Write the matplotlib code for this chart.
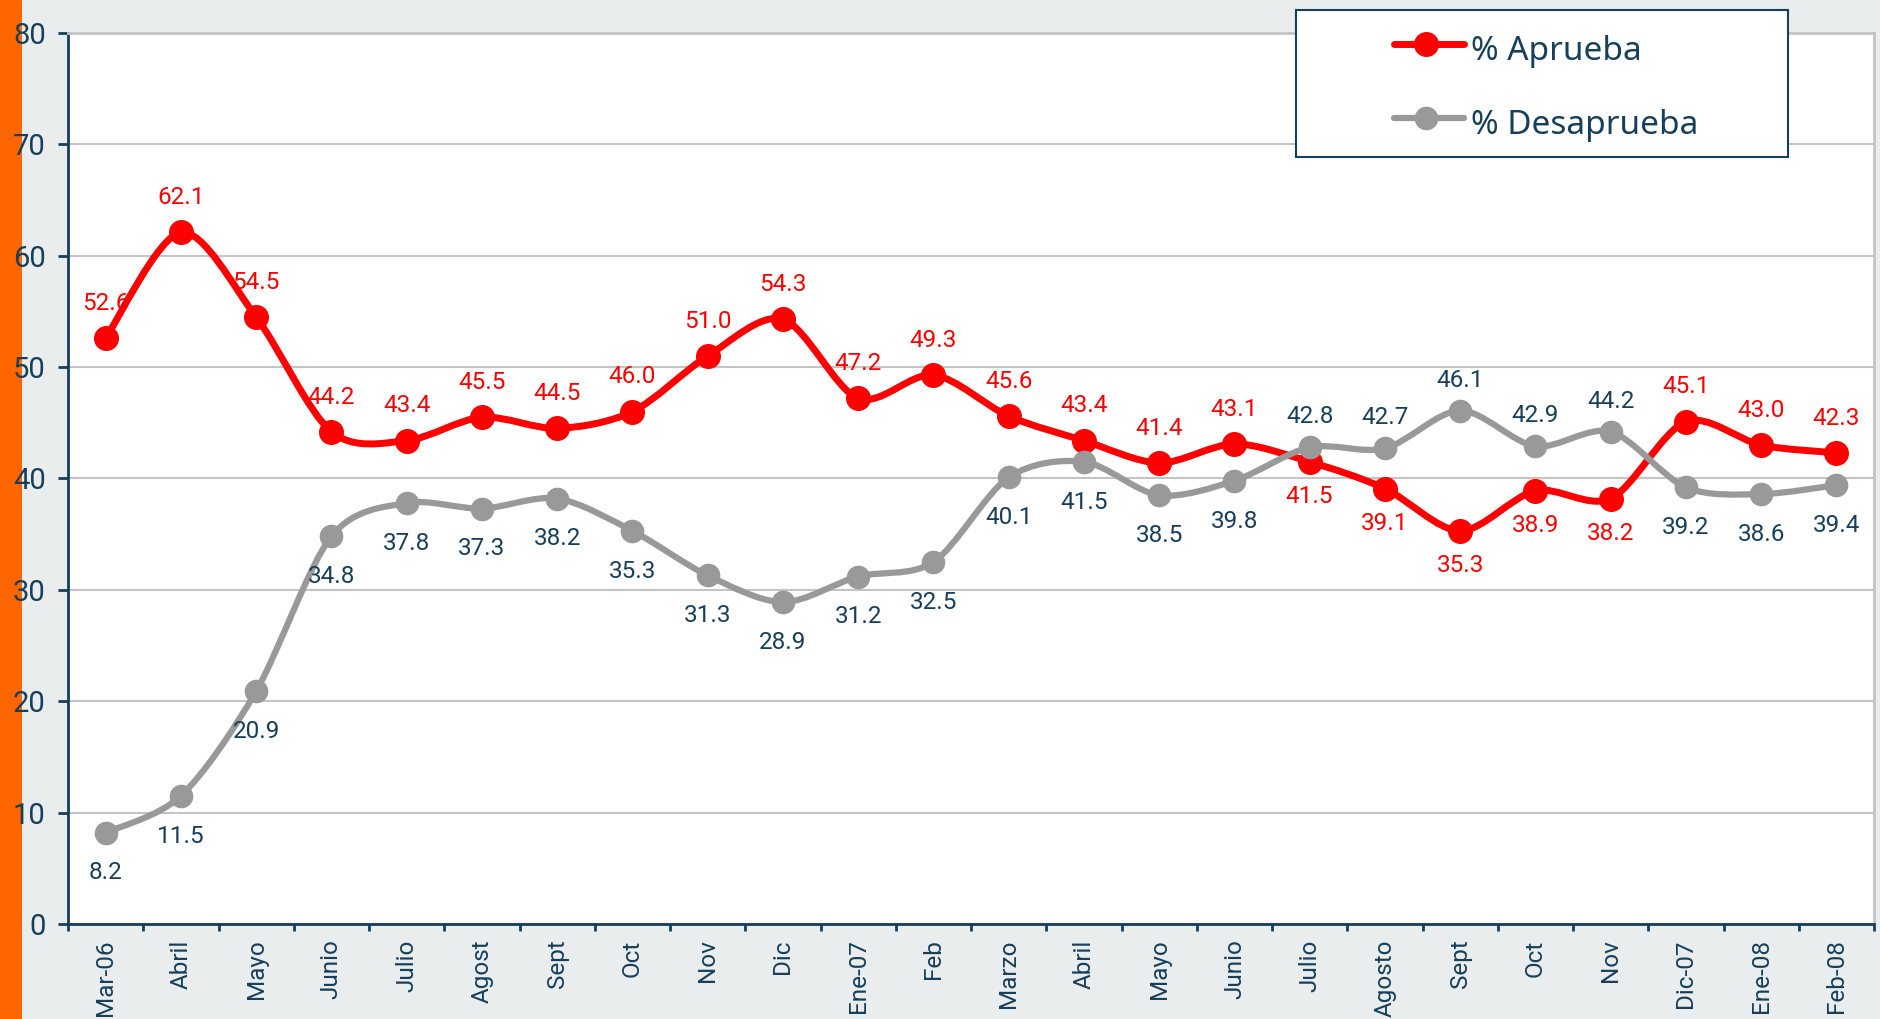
import numpy as np
import matplotlib.pyplot as plt
from matplotlib.path import Path
from matplotlib.patches import PathPatch, Rectangle
from matplotlib.lines import Line2D

meses = ["Mar-06", "Abril", "Mayo", "Junio", "Julio", "Agost", "Sept", "Oct",
         "Nov", "Dic", "Ene-07", "Feb", "Marzo", "Abril", "Mayo", "Junio",
         "Julio", "Agosto", "Sept", "Oct", "Nov", "Dic-07", "Ene-08", "Feb-08"]
aprueba = [52.6, 62.1, 54.5, 44.2, 43.4, 45.5, 44.5, 46.0, 51.0, 54.3, 47.2, 49.3,
           45.6, 43.4, 41.4, 43.1, 41.5, 39.1, 35.3, 38.9, 38.2, 45.1, 43.0, 42.3]
desaprueba = [8.2, 11.5, 20.9, 34.8, 37.8, 37.3, 38.2, 35.3, 31.3, 28.9, 31.2, 32.5,
              40.1, 41.5, 38.5, 39.8, 42.8, 42.7, 46.1, 42.9, 44.2, 39.2, 38.6, 39.4]

NAVY = "#173F5A"
RED = "#FF0000"
GRAY = "#999999"
BG = "#E9EDEE"
ORANGE = "#FF6600"
NUM_FONT = "Roboto"


def smooth_path(x, y, t=0.15):
    # curva tipo Excel "suavizada" (Catmull-Rom -> Bezier cubica)
    pts = np.column_stack([x, y]).astype(float)
    n = len(pts)
    verts = [pts[0]]
    codes = [Path.MOVETO]
    for i in range(n - 1):
        p0 = pts[max(i - 1, 0)]
        p1 = pts[i]
        p2 = pts[i + 1]
        p3 = pts[min(i + 2, n - 1)]
        c1 = p1 + (p2 - p0) * t
        c2 = p2 - (p3 - p1) * t
        verts += [c1, c2, p2]
        codes += [Path.CURVE4] * 3
    return Path(verts, codes)


fig = plt.figure(figsize=(18.8, 10.19), dpi=100, facecolor=BG)
fig.add_artist(Rectangle((0, 0), 22 / 1880, 1, transform=fig.transFigure,
                         facecolor=ORANGE, edgecolor="none", zorder=0))

ax = fig.add_axes([68 / 1880, 1 - 924 / 1019, 1806 / 1880, 891 / 1019])
ax.set_facecolor("white")

x = np.arange(len(meses))
series = [(aprueba, RED, 5.0, 17), (desaprueba, GRAY, 4.5, 16)]
for vals, color, lw, ms in series:
    ax.add_patch(PathPatch(smooth_path(x, vals), facecolor="none", edgecolor=color,
                           lw=lw, capstyle="round", joinstyle="round", zorder=3))
    ax.plot(x, vals, "o", color=color, markersize=ms, zorder=4)

# etiquetas de datos
for i in range(len(x)):
    a, d = aprueba[i], desaprueba[i]
    a_off = 25 if a >= d else -25
    d_off = -29 if a >= d else 22
    ax.annotate(f"{a:.1f}", (x[i], a), xytext=(0, a_off), textcoords="offset points",
                ha="center", va="center", color=RED, fontsize=17.5, family=NUM_FONT, zorder=5)
    ax.annotate(f"{d:.1f}", (x[i], d), xytext=(0, d_off), textcoords="offset points",
                ha="center", va="center", color=NAVY, fontsize=17.5, family=NUM_FONT, zorder=5)

ax.set_xlim(-0.5, len(meses) - 0.5)
ax.set_ylim(0, 80)
ax.set_yticks(range(0, 81, 10))
ax.set_xticks(x)
ax.set_xticklabels(meses, rotation=90, va="top")
ax.set_xticks(np.arange(-0.5, len(meses)), minor=True)
ax.tick_params(axis="x", which="major", length=0, pad=11, labelsize=17.5, labelcolor=NAVY)
ax.tick_params(axis="x", which="minor", length=5, width=2, color=NAVY, direction="out")
ax.tick_params(axis="y", length=7, width=2, color=NAVY, pad=9, labelsize=21, labelcolor=NAVY)
for lab in ax.get_xticklabels() + ax.get_yticklabels():
    lab.set_family(NUM_FONT)

ax.yaxis.grid(True, color="#C4C4C4", lw=1.5)
ax.set_axisbelow(True)
for s in ["top", "right"]:
    ax.spines[s].set_color("#C4C4C4")
    ax.spines[s].set_linewidth(2)
for s in ["left", "bottom"]:
    ax.spines[s].set_color(NAVY)
    ax.spines[s].set_linewidth(2)

# leyenda dibujada a mano
fig.add_artist(Rectangle((1296 / 1880, 1 - 157 / 1019), 492 / 1880, 147 / 1019,
                         transform=fig.transFigure, facecolor="white", edgecolor=NAVY,
                         lw=1.5, zorder=10))
for (vals, color, lw, ms), label, yy, yb in zip(series, ["% Aprueba", "% Desaprueba"],
                                                [44, 118], [60, 134]):
    yf = 1 - yy / 1019
    fig.add_artist(Line2D([1394 / 1880, 1464 / 1880], [yf, yf], transform=fig.transFigure,
                          color=color, lw=lw, solid_capstyle="round", zorder=11))
    fig.add_artist(Line2D([1426 / 1880], [yf], transform=fig.transFigure, marker="o",
                          color=color, markersize=ms, zorder=12))
    fig.text(1471 / 1880, 1 - yb / 1019, label, ha="left", va="baseline", color=NAVY,
             fontsize=24, family="Noto Sans", zorder=12)

fig.savefig("out.png", dpi=100, facecolor=BG)
